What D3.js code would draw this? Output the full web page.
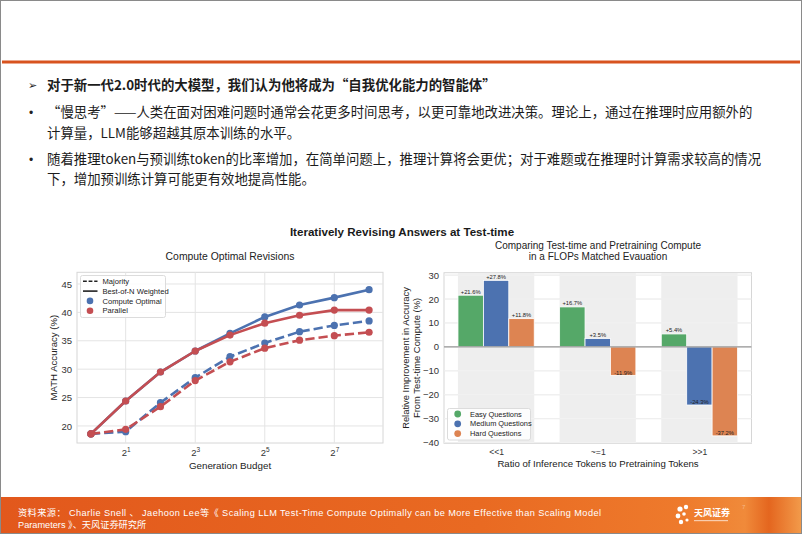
<!DOCTYPE html>
<html><head><meta charset="utf-8">
<script src="https://cdn.jsdelivr.net/npm/d3@7"></script>
<style>
html,body{margin:0;padding:0;background:#fff;}
svg{display:block;}
</style></head>
<body>
<svg id="page" width="802" height="534"></svg>
<script>
// ---------- DATA ----------
const budgets = [1, 2, 4, 8, 16, 32, 64, 128, 256];
const optimalBestOfN = [18.6, 24.4, 29.5, 33.2, 36.3, 39.2, 41.3, 42.6, 44.0];
const parallelBestOfN = [18.6, 24.4, 29.5, 33.2, 36.0, 38.1, 39.5, 40.4, 40.4];
const optimalMajority = [18.6, 19.0, 24.1, 28.5, 32.2, 34.6, 36.6, 37.7, 38.5];
const parallelMajority = [18.6, 19.4, 23.4, 28.0, 31.3, 33.7, 35.1, 35.9, 36.5];
const leftYTicks = [20, 25, 30, 35, 40, 45];
const leftXTickExp = [1, 3, 5, 7];

const ratioCats = ["<<1", "~=1", ">>1"];
const easyQ = [21.6, 16.7, 5.4];
const mediumQ = [27.8, 3.5, -24.3];
const hardQ = [11.8, -11.9, -37.2];
const rightYTicks = [30, 20, 10, 0, -10, -20, -30, -40];

const textLines = [
  "对于新一代2.0时代的大模型，我们认为他将成为“自我优化能力的智能体”",
  "“慢思考”——人类在面对困难问题时通常会花更多时间思考，以更可靠地改进决策。理论上，通过在推理时应用额外的",
  "计算量，LLM能够超越其原本训练的水平。",
  "随着推理token与预训练token的比率增加，在简单问题上，推理计算将会更优；对于难题或在推理时计算需求较高的情况",
  "下，增加预训练计算可能更有效地提高性能。"
];
const sourceLines = [
  "资料来源： Charlie Snell 、 Jaehoon Lee等《 Scaling LLM Test-Time Compute  Optimally  can be  More  Effective  than  Scaling  Model",
  "Parameters 》、天风证券研究所"
];

// ---------- STYLE ----------
const C = {blue:"#4C72B0", red:"#C44E52", green:"#55A868", orange:"#DD8452"};
const sans = "'Liberation Sans', Arial, sans-serif";
const cjk = "'Noto Sans CJK SC', 'Noto Sans', sans-serif";
const footFont = "'Liberation Sans', 'Noto Sans CJK SC', sans-serif";

const svg = d3.select("#page");

// ---------- PAGE ----------
svg.append("rect").attr("x",0.5).attr("y",0.5).attr("width",801).attr("height",533)
  .attr("fill","#fff").attr("stroke","#8a8a8a");
svg.append("rect").attr("x",2).attr("y",60.5).attr("width",798).attr("height",3).attr("fill","#d8531f");

const lineY = [85, 112.5, 133.5, 159.5, 179.5];
textLines.forEach((t,i)=>{
  svg.append("text").attr("x",47).attr("y",lineY[i]).attr("dy","0.36em")
    .attr("font-family",cjk).attr("font-size",13.4)
    .attr("font-weight", i===0 ? 700 : 400)
    .attr("fill","#1c1c1c").text(t);
});
svg.append("text").attr("x",28).attr("y",lineY[0]).attr("dy","0.36em")
  .attr("font-family",cjk).attr("font-size",11).attr("fill","#222").text("➢");
[1,3].forEach(i=>{
  svg.append("text").attr("x",29).attr("y",lineY[i]).attr("dy","0.36em")
    .attr("font-family",sans).attr("font-size",12).attr("fill","#222").text("•");
});

// Figure title
svg.append("text").attr("x",402).attr("y",232).attr("dy","0.36em").attr("text-anchor","middle")
  .attr("font-family",sans).attr("font-weight",700).attr("font-size",11.6).attr("fill","#1a1a1a")
  .text("Iteratively Revising Answers at Test-time");

// ---------- LEFT CHART ----------
const L = {x0:77, x1:383, y0:272.3, y1:443};
const xL = d3.scaleLog().base(2).domain([Math.pow(2,-0.4), Math.pow(2,8.4)]).range([L.x0, L.x1]);
const yL = d3.scaleLinear().domain([17, 47.06]).range([L.y1, L.y0]);
const gl = svg.append("g");

gl.append("rect").attr("x",L.x0).attr("y",L.y0).attr("width",L.x1-L.x0).attr("height",L.y1-L.y0)
  .attr("fill","#fff").attr("stroke","#d6d6d6").attr("stroke-width",1);
gl.selectAll(".gy").data(leftYTicks).join("line")
  .attr("x1",L.x0).attr("x2",L.x1).attr("y1",d=>yL(d)).attr("y2",d=>yL(d))
  .attr("stroke","#e4e4e4").attr("stroke-width",1);
gl.selectAll(".gx").data(leftXTickExp).join("line")
  .attr("x1",d=>xL(Math.pow(2,d))).attr("x2",d=>xL(Math.pow(2,d))).attr("y1",L.y0).attr("y2",L.y1)
  .attr("stroke","#e4e4e4").attr("stroke-width",1);

const yAxisL = gl.append("g").attr("transform",`translate(${L.x0},0)`)
  .call(d3.axisLeft(yL).tickValues(leftYTicks).tickSize(0).tickPadding(5));
yAxisL.select(".domain").remove();
yAxisL.selectAll("text").attr("font-family",sans).attr("font-size",9.5).attr("fill","#333");

const xAxisL = gl.append("g").attr("transform",`translate(0,${L.y1})`)
  .call(d3.axisBottom(xL).tickValues(leftXTickExp.map(e=>Math.pow(2,e))).tickSize(0).tickPadding(6).tickFormat(""));
xAxisL.select(".domain").remove();
xAxisL.selectAll(".tick text").each(function(d){
  const t = d3.select(this).attr("font-family",sans).attr("font-size",9.5).attr("fill","#333");
  t.append("tspan").text("2");
  t.append("tspan").attr("dy",-4).attr("font-size",6.5).text(Math.round(Math.log2(d)));
});

gl.append("text").attr("x",230).attr("y",256.5).attr("dy","0.36em").attr("text-anchor","middle")
  .attr("font-family",sans).attr("font-size",10.4).attr("fill","#222").text("Compute Optimal Revisions");
gl.append("text").attr("x",230).attr("y",465).attr("dy","0.36em").attr("text-anchor","middle")
  .attr("font-family",sans).attr("font-size",9.8).attr("fill","#222").text("Generation Budget");
gl.append("text").attr("transform",`translate(54,${(L.y0+L.y1)/2}) rotate(-90)`).attr("dy","0.36em")
  .attr("text-anchor","middle").attr("font-family",sans).attr("font-size",9.6).attr("fill","#222")
  .text("MATH Accuracy (%)");

const lineGen = d3.line().x((d,i)=>xL(budgets[i])).y(d=>yL(d));
const seriesL = [
  {v:optimalMajority, c:C.blue, dash:"9.25,4"},
  {v:optimalBestOfN, c:C.blue, dash:null},
  {v:parallelMajority, c:C.red, dash:"9.25,4"},
  {v:parallelBestOfN, c:C.red, dash:null}
];
const plotL = gl.append("g");
seriesL.forEach(s=>{
  plotL.append("path").datum(s.v).attr("d",lineGen).attr("fill","none")
    .attr("stroke",s.c).attr("stroke-width",2.6).attr("stroke-dasharray",s.dash)
    .attr("stroke-linecap","butt").attr("stroke-linejoin","round");
  plotL.selectAll(null).data(s.v).join("circle")
    .attr("cx",(d,i)=>xL(budgets[i])).attr("cy",d=>yL(d)).attr("r",3.6).attr("fill",s.c);
});

// left legend
const lg = gl.append("g");
lg.append("rect").attr("x",80.5).attr("y",275.5).attr("width",85).attr("height",42).attr("rx",2)
  .attr("fill","#fff").attr("fill-opacity",0.85).attr("stroke","#dcdcdc");
const legL = [
  {t:"Majority", type:"dash"}, {t:"Best-of-N Weighted", type:"solid"},
  {t:"Compute Optimal", type:"dot", c:C.blue}, {t:"Parallel", type:"dot", c:C.red}
];
legL.forEach((e,i)=>{
  const y = 281.3 + i*9.8;
  if(e.type==="dot") lg.append("circle").attr("cx",90).attr("cy",y).attr("r",3.3).attr("fill",e.c);
  else lg.append("line").attr("x1",83).attr("x2",97.5).attr("y1",y).attr("y2",y)
    .attr("stroke","#222").attr("stroke-width",1.6).attr("stroke-dasharray",e.type==="dash"?"3.8,1.8":null);
  lg.append("text").attr("x",102.5).attr("y",y).attr("dy","0.36em").attr("font-family",sans)
    .attr("font-size",7.6).attr("fill","#222").text(e.t);
});

// ---------- RIGHT CHART ----------
const R = {x0:444, x1:751.5, y0:272.7, y1:443.3};
const xR = d3.scaleLinear().domain([-0.5125, 2.5125]).range([R.x0, R.x1]);
const yR = d3.scaleLinear().domain([-40.3, 31]).range([R.y1, R.y0]);
const gr = svg.append("g");
gr.append("rect").attr("x",R.x0).attr("y",R.y0).attr("width",R.x1-R.x0).attr("height",R.y1-R.y0)
  .attr("fill","#fff").attr("stroke","#d6d6d6");
gr.selectAll(".gy").data(rightYTicks).join("line")
  .attr("x1",R.x0).attr("x2",R.x1).attr("y1",d=>yR(d)).attr("y2",d=>yR(d))
  .attr("stroke","#e4e4e4");
gr.selectAll(".band").data(ratioCats).join("rect")
  .attr("x",(d,i)=>xR(i-0.375)).attr("width",xR(0.75)-xR(0))
  .attr("y",R.y0+0.5).attr("height",R.y1-R.y0-1).attr("fill","#ececec").attr("fill-opacity",0.9);
gr.selectAll(".gy2").data(rightYTicks).join("line")
  .attr("x1",R.x0).attr("x2",R.x1).attr("y1",d=>yR(d)).attr("y2",d=>yR(d))
  .attr("stroke","#f6f6f6").attr("stroke-opacity",0.6);

const yAxisR = gr.append("g").attr("transform",`translate(${R.x0},0)`)
  .call(d3.axisLeft(yR).tickValues(rightYTicks).tickSize(0).tickPadding(5).tickFormat(d3.format("d")));
yAxisR.select(".domain").remove();
yAxisR.selectAll("text").attr("font-family",sans).attr("font-size",9.5).attr("fill","#333")
  .text(d=> d<0 ? "\u2212"+Math.abs(d) : d);

const xAxisR = gr.append("g").attr("transform",`translate(0,${R.y1})`)
  .call(d3.axisBottom(xR).tickValues([0,1,2]).tickSize(0).tickPadding(6).tickFormat(i=>ratioCats[i]));
xAxisR.select(".domain").remove();
xAxisR.selectAll("text").attr("font-family",sans).attr("font-size",8.6).attr("fill","#333");

const seriesR = [
  {v:easyQ, c:C.green, off:-0.25, name:"Easy Questions"},
  {v:mediumQ, c:C.blue, off:0, name:"Medium Questions"},
  {v:hardQ, c:C.orange, off:0.25, name:"Hard Questions"}
];
const fmt = v => (v>0?"+":"") + v.toFixed(1) + "%";
seriesR.forEach(s=>{
  gr.selectAll(null).data(s.v).join("rect")
    .attr("x",(d,i)=>xR(i+s.off-0.125)).attr("width",xR(0.25)-xR(0))
    .attr("y",d=>Math.min(yR(d),yR(0))).attr("height",d=>Math.abs(yR(d)-yR(0)))
    .attr("fill",s.c).attr("stroke","#fff").attr("stroke-width",0.8);
});
gr.append("line").attr("x1",R.x0).attr("x2",R.x1).attr("y1",yR(0)).attr("y2",yR(0))
  .attr("stroke","#999").attr("stroke-width",1.2);
seriesR.forEach(s=>{
  gr.selectAll(null).data(s.v).join("text")
    .attr("x",(d,i)=>xR(i+s.off)).attr("y",d=>yR(d)-(d>0?1.5:0.8))
    .attr("text-anchor","middle").attr("font-family",sans).attr("font-size",5.8).attr("fill","#222")
    .text(d=>fmt(d));
});

gr.append("text").attr("x",598).attr("y",245).attr("dy","0.36em").attr("text-anchor","middle")
  .attr("font-family",sans).attr("font-size",10).attr("fill","#222").text("Comparing Test-time and Pretraining Compute");
gr.append("text").attr("x",598).attr("y",256).attr("dy","0.36em").attr("text-anchor","middle")
  .attr("font-family",sans).attr("font-size",10).attr("fill","#222").text("in a FLOPs Matched Evauation");
gr.append("text").attr("x",598).attr("y",464).attr("dy","0.36em").attr("text-anchor","middle")
  .attr("font-family",sans).attr("font-size",9.6).attr("fill","#222").text("Ratio of Inference Tokens to Pretraining Tokens");
const yl = gr.append("text").attr("transform",`translate(0,${(R.y0+R.y1)/2}) rotate(-90)`).attr("text-anchor","middle")
  .attr("font-family",sans).attr("font-size",9.4).attr("fill","#222");
yl.append("tspan").attr("x",0).attr("y",406).attr("dy","0.36em").text("Relative Improvement in Accuracy");
yl.append("tspan").attr("x",0).attr("y",417).attr("dy","0.36em").text("From Test-time Compute (%)");

// right legend
const lgr = gr.append("g");
lgr.append("rect").attr("x",447.5).attr("y",408.5).attr("width",83).attr("height",31.5).attr("rx",2)
  .attr("fill","#fff").attr("fill-opacity",0.85).attr("stroke","#dcdcdc");
seriesR.forEach((s,i)=>{
  const y = 414 + i*9.8;
  lgr.append("circle").attr("cx",457.7).attr("cy",y).attr("r",3.4).attr("fill",s.c);
  lgr.append("text").attr("x",470).attr("y",y).attr("dy","0.36em").attr("font-family",sans)
    .attr("font-size",7.4).attr("fill","#222").text(s.name);
});

// ---------- FOOTER ----------
const defs = svg.append("defs");
const grad = defs.append("linearGradient").attr("id","ft").attr("x1","0").attr("x2","1").attr("y1","0").attr("y2","0");
[[0,"#e2581c"],[0.6,"#e96a22"],[0.85,"#ee7a2c"],[0.93,"#f08a3a"],[0.96,"#e4661f"],[1,"#f29a4a"]]
  .forEach(([o,c])=>grad.append("stop").attr("offset",o).attr("stop-color",c));
svg.append("rect").attr("x",1).attr("y",497).attr("width",800).attr("height",36).attr("fill","url(#ft)");
sourceLines.forEach((t,i)=>{
  const tx = svg.append("text").attr("x",18).attr("y",513 + i*11.6).attr("dy","0.36em")
    .attr("font-family",footFont).attr("font-size",9.2).attr("fill","#fff").text(t);
  if(i===0) tx.attr("textLength",583).attr("lengthAdjust","spacing");
});
// logo
const logo = svg.append("g").attr("fill","#fff");
[[680,509,2.6],[686,507,2.2],[678,516,2.4],[684,514,1.8],[681,522,2.2],[687,520,1.6]]
  .forEach(([x,y,r])=>logo.append("circle").attr("cx",x).attr("cy",y).attr("r",r));
logo.append("text").attr("x",694).attr("y",513).attr("dy","0.36em").attr("font-family",cjk)
  .attr("font-weight",700).attr("font-size",9).text("天风证券");
logo.append("rect").attr("x",694).attr("y",520).attr("width",34).attr("height",1.2).attr("fill-opacity",0.6);
svg.append("text").attr("x",742).attr("y",507).attr("dy","0.36em").attr("font-family",sans)
  .attr("font-size",6).attr("fill","#f6b889").text("7");
</script>
</body></html>
